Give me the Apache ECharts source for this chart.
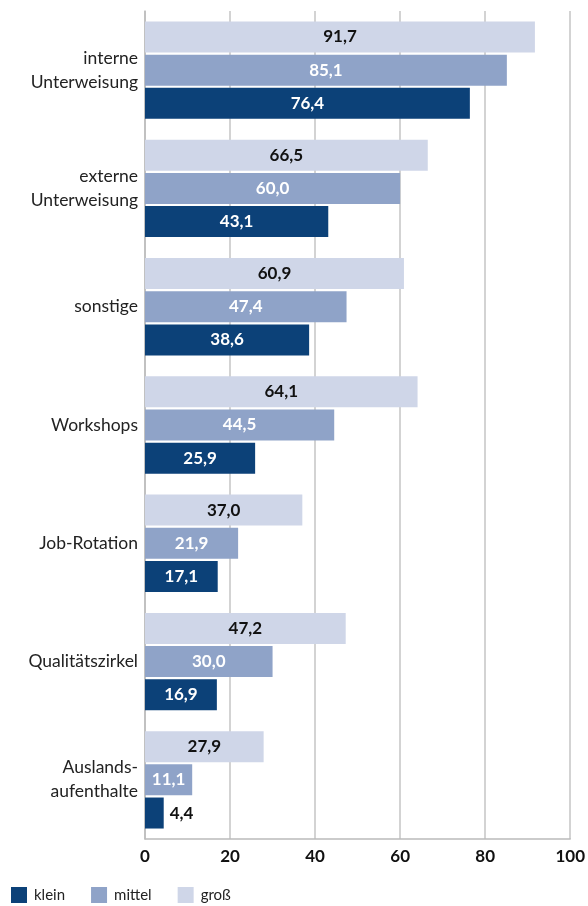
<!DOCTYPE html>
<html>
<head>
<meta charset="utf-8">
<script src="https://cdn.jsdelivr.net/npm/echarts@6/dist/echarts.min.js"></script>
<style>html,body{margin:0;padding:0;background:#fff;}#c{width:588px;height:906px;}</style>
</head>
<body>
<div id="c"></div>
<script>
const categories = ['interne\nUnterweisung', 'externe\nUnterweisung', 'sonstige', 'Workshops', 'Job-Rotation', 'Qualitätszirkel', 'Auslands-\naufenthalte'];
const klein = [76.4, 43.1, 38.6, 25.9, 17.1, 16.9, 4.4];
const mittel = [85.1, 60.0, 47.4, 44.5, 21.9, 30.0, 11.1];
const gross = [91.7, 66.5, 60.9, 64.1, 37.0, 47.2, 27.9];
const xTicks = [0, 20, 40, 60, 80, 100];

const FONT = 'Lato';
const fmt = p => p.value.toFixed(1).replace('.', ',');
function mk(name, data, color, labelColor) {
  return {
    name: name, type: 'bar', data: data.map(v => {
      if (v < 8) return { value: v, label: { position: 'right', color: '#111', distance: 6 } };
      return v;
    }),
    barWidth: 31, barGap: '7%',
    itemStyle: { color: color },
    label: { show: true, position: 'inside', formatter: fmt, color: labelColor, fontWeight: 'bold', fontSize: 17, fontFamily: FONT },
    emphasis: { disabled: true }
  };
}
const chart = echarts.init(document.getElementById('c'));
chart.setOption({
  animation: false,
  textStyle: { fontFamily: FONT },
  grid: { left: 145, right: 15, top: 11, bottom: 67, containLabel: false },
  legend: {
    data: ['klein', 'mittel', 'groß'], left: 6, top: 882, itemWidth: 16, itemHeight: 16, itemGap: 26,
    icon: 'rect', textStyle: { fontSize: 15, color: '#222', fontFamily: FONT, padding: [0, 0, 0, 2] }
  },
  xAxis: {
    type: 'value', min: 0, max: 100, interval: 20,
    axisLine: { show: true, lineStyle: { color: '#bbbbbb', width: 1.5 } },
    axisTick: { show: false },
    splitLine: { show: true, lineStyle: { color: '#c4c4c4', width: 1.5 } },
    axisLabel: { color: '#111', fontWeight: 'bold', fontSize: 17, margin: 9, fontFamily: FONT,
      formatter: v => xTicks.includes(v) ? String(v) : '' }
  },
  yAxis: {
    type: 'category', data: categories, inverse: true,
    axisLine: { show: true, lineStyle: { color: '#bbbbbb', width: 1.5 } },
    axisTick: { show: false },
    axisLabel: { color: '#222', fontSize: 17.5, lineHeight: 24, margin: 7, align: 'right', fontFamily: FONT }
  },
  series: [
    mk('groß', gross, '#cfd6e8', '#111111'),
    mk('mittel', mittel, '#8fa3c8', '#ffffff'),
    mk('klein', klein, '#0c4178', '#ffffff')
  ]
});
</script>
</body>
</html>
